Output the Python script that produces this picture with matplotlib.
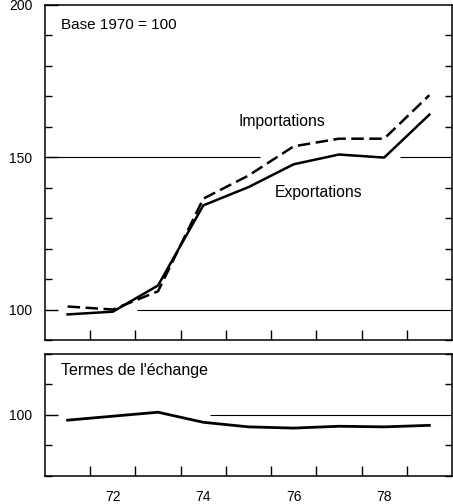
import matplotlib.pyplot as plt
from matplotlib.ticker import MultipleLocator, FixedLocator

plt.rcParams['font.family'] = ['Liberation Sans', 'DejaVu Sans']

# Indices, base 1970 = 100
annees = [71, 72, 73, 74, 75, 76, 77, 78, 79]
exportations = [98.4, 99.3, 107.9, 134.2, 140.2, 147.7, 150.9, 149.9, 164.0]
importations = [101.0, 100.0, 106.0, 136.4, 144.0, 153.6, 156.1, 156.1, 170.4]
termes = [98.3, 99.6, 100.9, 97.6, 96.1, 95.7, 96.3, 96.1, 96.6]

labels_annees = ["72", "74", "76", "78"]

fig = plt.figure(figsize=(4.53, 5.04), dpi=100)
ax1 = fig.add_axes([0.0993, 0.3254, 0.8985, 0.6647])
ax2 = fig.add_axes([0.0993, 0.0556, 0.8985, 0.2421])


def habiller(ax, ymin, ymax, majeurs):
    ax.set_xlim(70.5, 79.5)
    ax.set_ylim(ymin, ymax)
    for s in ax.spines.values():
        s.set_linewidth(1.1)
    # graduations des années entre les labels
    ax.xaxis.set_major_locator(FixedLocator([72, 74, 76, 78]))
    ax.set_xticklabels(labels_annees if ax is ax2 else [])
    ax.xaxis.set_minor_locator(FixedLocator([x + 0.5 for x in range(71, 79)]))
    ax.tick_params(axis='x', which='major', length=0, pad=10, labelsize=10)
    ax.tick_params(axis='x', which='minor', direction='in', length=7.5, width=1.0,
                   top=False, bottom=True)
    ax.yaxis.set_major_locator(FixedLocator(majeurs))
    ax.yaxis.set_minor_locator(MultipleLocator(10))
    ax.tick_params(axis='y', which='major', direction='in', length=9.5, width=1.0,
                   left=True, right=False, pad=9, labelsize=10)
    ax.tick_params(axis='y', which='minor', direction='in', length=5, width=1.0,
                   left=True, right=True)


habiller(ax1, 90, 200, [100, 150, 200])
habiller(ax2, 80, 120, [100])

# lignes de repère, interrompues autour des courbes
ax1.hlines(150, 70.5, 75.26, color='black', lw=0.8)
ax1.hlines(150, 78.35, 79.5, color='black', lw=0.8)
ax1.hlines(100, 72.54, 79.5, color='black', lw=0.8)
ax2.hlines(100, 74.15, 79.5, color='black', lw=0.8)

ax1.plot(annees, exportations, color='black', lw=1.8)
ax1.plot(annees, importations, color='black', lw=1.8, dashes=(5, 2.2))
ax2.plot(annees, termes, color='black', lw=2.0)

ax1.text(70.85, 193.4, "Base 1970 = 100", fontsize=11, va='center')
ax1.text(74.79, 161.6, "Importations", fontsize=11.3, va='center')
ax1.text(75.59, 138.4, "Exportations", fontsize=11.3, va='center')
ax2.text(70.85, 114.5, "Termes de l'échange", fontsize=11.5, va='center')

fig.savefig("out.png", dpi=100)
